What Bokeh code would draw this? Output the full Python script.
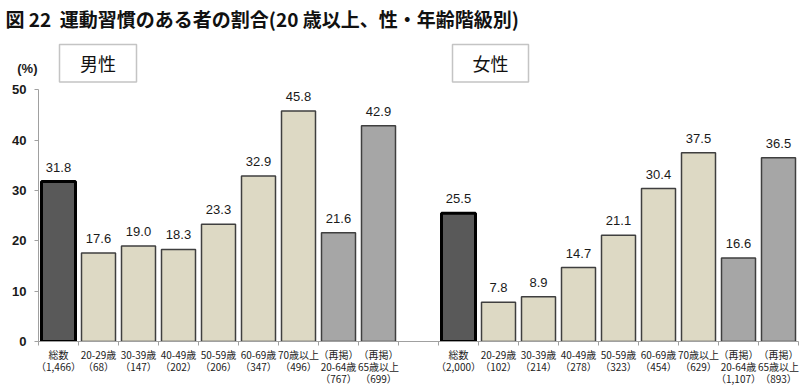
from bokeh.plotting import figure
from bokeh.models import (Range1d, FixedTicker, ColumnDataSource, LabelSet, Label,
                          BoxAnnotation, LinearAxis)
from bokeh.core.properties import value
from bokeh.embed import file_html
from bokeh.resources import INLINE

# ---- data ----
age_groups = ["総数", "20-29歳", "30-39歳", "40-49歳", "50-59歳", "60-69歳", "70歳以上",
              "（再掲）\n20-64歳", "（再掲）\n65歳以上"]
male_n = ["1,466", "68", "147", "202", "206", "347", "496", "767", "699"]
female_n = ["2,000", "102", "214", "278", "323", "454", "629", "1,107", "893"]
male_values = [31.8, 17.6, 19.0, 18.3, 23.3, 32.9, 45.8, 21.6, 42.9]
female_values = [25.5, 7.8, 8.9, 14.7, 21.1, 30.4, 37.5, 16.6, 36.5]
bar_kind = ["total", "age", "age", "age", "age", "age", "age", "recap", "recap"]
y_ticks = [0, 10, 20, 30, 40, 50]

title_text = "図 22\u00a0\u00a0運動習慣のある者の割合(20 歳以上、性・年齢階級別)"
panel_names = ["男性", "女性"]
unit_text = "(%)"

# ---- slot positions: male group, one empty slot, female group ----
n = len(age_groups)
male_x = list(range(n))
female_x = [n + 1 + i for i in range(n)]
n_slots = 2 * n + 1

fill_map = {"total": "#595959", "age": "#ddd9c4", "recap": "#a6a6a6"}
line_map = {"total": "#000000", "age": "#3f3f3f", "recap": "#3f3f3f"}
lw_map = {"total": 3.0, "age": 1.5, "recap": 1.5}

# ---- layout (pixels) ----
W, H = 810, 389
FL, FR, FT, FB = 38, 798, 30, 341        # frame edges on the page
Y50_PX = 87                               # page y of the value 50
X0, X1 = -0.5, n_slots - 0.5
ppu = (FB - Y50_PX) / 50.0
Y0, Y1 = 0, 50 + (Y50_PX - FT) / ppu


def px_x(px):
    return X0 + (px - FL) * (X1 - X0) / (FR - FL)


def px_y(py):
    return (FB - py) / ppu


p = figure(width=W, height=H, x_range=Range1d(X0, X1),
           y_range=Range1d(Y0, Y1), output_backend="svg", toolbar_location=None,
           min_border_left=FL, min_border_right=W - FR,
           min_border_top=FT, min_border_bottom=H - FB)
p.outline_line_color = None
p.xgrid.visible = False
p.ygrid.visible = False
p.background_fill_color = "white"
p.border_fill_color = "white"

# title
p.title.text = title_text
p.title.align = "left"
p.title.offset = 5 - FL
p.title.standoff = 4
p.title.text_font = "Noto Sans CJK JP"
p.title.text_font_style = "bold"
p.title.text_font_size = "19px"
p.title.text_color = "#111111"

cat_overrides = {}
for xs, vals, ns in ((male_x, male_values, male_n), (female_x, female_values, female_n)):
    src = ColumnDataSource(dict(
        x=xs, top=vals,
        fill=[fill_map[k] for k in bar_kind],
        line=[line_map[k] for k in bar_kind],
        lw=[lw_map[k] for k in bar_kind],
        lbl=["%.1f" % v for v in vals],
    ))
    p.vbar(x="x", top="top", width=0.85, source=src, fill_color="fill",
           line_color="line", line_width="lw")
    p.add_layout(LabelSet(x="x", y="top", text="lbl", source=src, y_offset=10,
                          text_align="center", text_baseline="alphabetic",
                          text_font=value("Liberation Sans"), text_font_size="13px",
                          text_color="#1a1a1a"))
    for xv, g, c in zip(xs, age_groups, ns):
        cat_overrides[xv] = "%s\n（%s）" % (g, c)

# y axis (values)
ya = p.yaxis[0]
ya.ticker = FixedTicker(ticks=y_ticks)
ya.bounds = (0, 50)
ya.minor_tick_line_color = None
ya.major_tick_in = 0
ya.major_tick_out = 4
ya.major_label_standoff = 8
ya.axis_line_color = "#a0a0a0"
ya.major_tick_line_color = "#a0a0a0"
ya.major_label_text_font = "Liberation Sans"
ya.major_label_text_font_style = "bold"
ya.major_label_text_font_size = "13px"
ya.major_label_text_color = "#1a1a1a"

# unit label "(%)" as a second left axis with a single tick
unit_pos = round(px_y(65), 2)
ua = LinearAxis(ticker=FixedTicker(ticks=[unit_pos]),
                major_label_overrides={unit_pos: unit_text},
                axis_line_color=None, major_tick_line_color=None,
                minor_tick_line_color=None, major_tick_out=0, major_tick_in=0,
                major_label_standoff=-28,
                major_label_text_font="Liberation Sans",
                major_label_text_font_style="bold",
                major_label_text_font_size="13px",
                major_label_text_color="#1a1a1a")
p.add_layout(ua, "left")

# x baseline with ticks at slot boundaries
bounds_ticks = [i - 0.5 for i in range(n_slots + 1)]
xa = p.xaxis[0]
xa.ticker = FixedTicker(ticks=bounds_ticks)
xa.major_label_overrides = {t: "" for t in bounds_ticks}
xa.major_label_text_font_size = "1px"
xa.major_label_standoff = 0
xa.major_tick_in = 0
xa.major_tick_out = 4
xa.minor_tick_line_color = None
xa.axis_line_color = "#a0a0a0"
xa.major_tick_line_color = "#a0a0a0"

# category labels as a second axis below
ca = LinearAxis(ticker=FixedTicker(ticks=male_x + female_x),
                major_label_overrides=cat_overrides,
                axis_line_color=None, major_tick_line_color=None,
                minor_tick_line_color=None, major_tick_out=0, major_tick_in=0,
                major_label_standoff=1,
                major_label_text_font="Noto Sans CJK JP",
                major_label_text_font_size="10px",
                major_label_text_line_height=0.83,
                major_label_text_color="#222222")
p.add_layout(ca, "below")

# panel boxes (inside the frame, above the value 50)
for (l, r), name in zip(((59, 136), (452, 528)), panel_names):
    p.add_layout(BoxAnnotation(left=px_x(l), right=px_x(r), bottom=px_y(79), top=px_y(41),
                               fill_color="white", fill_alpha=1.0,
                               line_color="#3a3a3a", line_width=1.5))
    p.add_layout(Label(x=px_x((l + r) / 2), y=px_y(60),
                       text=name, text_font="Noto Sans CJK JP", text_font_size="18px",
                       text_align="center", text_baseline="middle", text_color="#111111"))

open("out.html", "w").write(file_html(p, INLINE))
